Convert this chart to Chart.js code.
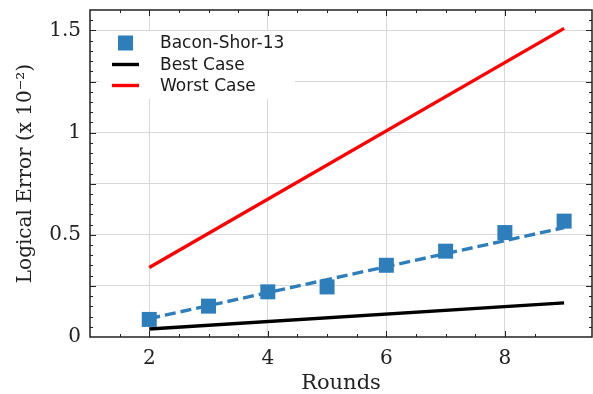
<!DOCTYPE html>
<html>
<head>
<meta charset="utf-8">
<script src="https://cdn.jsdelivr.net/npm/chart.js@4.4.1/dist/chart.umd.min.js"></script>
<style>
  body { margin: 0; background: #fff; }
  #wrap { width: 593px; height: 394px; }
</style>
</head>
<body>
<div id="wrap"><canvas id="myChart" width="593" height="394"></canvas></div>
<script>
// valores
const rounds = [2, 3, 4, 5, 6, 7, 8, 9];
const baconShor = [0.086, 0.151, 0.221, 0.245, 0.351, 0.42, 0.511, 0.567];
const fitRounds = [2, 9];
const fitValues = [0.09, 0.535];
const caseRounds = [2, 9];
const bestCase = [0.039, 0.167];
const worstCase = [0.34, 1.51];
const seriesNames = ['Bacon-Shor-13', 'Best Case', 'Worst Case'];

const blue = '#2f7ebc';

function pts(xs, ys) {
    return xs.map((x, i) => ({ x: x, y: ys[i] }));
}
function isMult(v, step) {
    return Math.abs(v / step - Math.round(v / step)) < 1e-6;
}

// moldura e marcas dos eixos para dentro
const frameTicks = {
    id: 'frameTicks',
    afterDraw(chart) {
        const c = chart.ctx, a = chart.chartArea;
        const xs = chart.scales.x, ys = chart.scales.y;
        c.save();
        c.strokeStyle = '#222';
        c.lineWidth = 1;
        c.beginPath();
        xs.ticks.forEach(t => {
            if (t.value > xs.max - 1e-6 || t.value < xs.min + 1e-6) return;
            const p = Math.round(xs.getPixelForValue(t.value)) + 0.5;
            const len = isMult(t.value, 2) ? 6 : 3;
            c.moveTo(p, a.bottom); c.lineTo(p, a.bottom - len);
            c.moveTo(p, a.top); c.lineTo(p, a.top + len);
        });
        ys.ticks.forEach(t => {
            if (t.value > ys.max - 1e-6 || t.value < ys.min + 1e-6) return;
            const p = Math.round(ys.getPixelForValue(t.value)) + 0.5;
            const len = isMult(t.value, 0.25) ? 6 : 3;
            c.moveTo(a.left, p); c.lineTo(a.left + len, p);
            c.moveTo(a.right, p); c.lineTo(a.right - len, p);
        });
        c.stroke();
        c.lineWidth = 1.5;
        c.strokeRect(a.left, a.top, a.right - a.left, a.bottom - a.top);
        c.restore();
    }
};

// legenda dentro da área do gráfico
const innerLegend = {
    id: 'innerLegend',
    afterDraw(chart) {
        const c = chart.ctx, a = chart.chartArea;
        const x0 = a.left + 9, y0 = a.top + 21;
        c.save();
        c.fillStyle = '#fff';
        c.fillRect(x0, y0, 196, 68);
        c.font = '17px "DejaVu Sans"';
        c.textBaseline = 'middle';
        c.textAlign = 'left';
        const rows = [y0 + 12, y0 + 33.5, y0 + 54.5];
        // quadrado
        c.fillStyle = blue;
        c.fillRect(x0 + 19, rows[0] - 7.5, 15, 15);
        // linhas
        c.lineWidth = 3.4;
        c.strokeStyle = '#000';
        c.beginPath(); c.moveTo(x0 + 13, rows[1]); c.lineTo(x0 + 40, rows[1]); c.stroke();
        c.strokeStyle = '#ff0000';
        c.beginPath(); c.moveTo(x0 + 13, rows[2]); c.lineTo(x0 + 40, rows[2]); c.stroke();
        c.fillStyle = '#1a1a1a';
        seriesNames.forEach((n, i) => c.fillText(n, x0 + 61, rows[i] + 1));
        c.restore();
    }
};

const serif = '"DejaVu Serif"';

var ctx = document.getElementById('myChart').getContext('2d');
var myChart = new Chart(ctx, {
    type: 'scatter',
    data: {
        datasets: [{
            label: seriesNames[0],
            data: pts(rounds, baconShor),
            pointStyle: 'rect',
            pointRadius: 10.6,
            pointHoverRadius: 10.6,
            backgroundColor: blue,
            borderWidth: 0,
            showLine: false,
            order: 0
        }, {
            label: 'fit',
            data: pts(fitRounds, fitValues),
            showLine: true,
            borderColor: blue,
            borderWidth: 3.4,
            borderDash: [11, 5],
            pointRadius: 0,
            order: 1
        }, {
            label: seriesNames[1],
            data: pts(caseRounds, bestCase),
            showLine: true,
            borderColor: '#000',
            borderWidth: 3.4,
            pointRadius: 0,
            order: 2
        }, {
            label: seriesNames[2],
            data: pts(caseRounds, worstCase),
            showLine: true,
            borderColor: '#ff0000',
            borderWidth: 3.4,
            pointRadius: 0,
            order: 3
        }]
    },
    options: {
        responsive: false,
        animation: false,
        events: [],
        layout: { autoPadding: false, padding: { top: 10, right: 1, left: 0, bottom: 0 } },
        plugins: {
            legend: { display: false },
            tooltip: { enabled: false }
        },
        scales: {
            x: {
                type: 'linear',
                min: 1,
                max: 9.47,
                afterFit(scale) {
                    scale.height = 57;
                    scale.paddingLeft = 0;
                    scale.paddingRight = 0;
                },
                border: { display: false },
                grid: {
                    drawTicks: false,
                    lineWidth: 1,
                    color: c => isMult(c.tick.value, 2) && c.tick.value > 1 ? '#d9d9d9' : 'rgba(0,0,0,0)'
                },
                ticks: {
                    stepSize: 0.5,
                    autoSkip: false,
                    maxRotation: 0,
                    padding: 10,
                    color: '#222',
                    font: { family: serif, size: 20 },
                    callback: v => (isMult(v, 2) && v > 1 && v < 9.2) ? String(Math.round(v)) : ''
                },
                title: {
                    display: true,
                    text: 'Rounds',
                    color: '#222',
                    font: { family: serif, size: 21 },
                    padding: { top: 0, bottom: -2 }
                }
            },
            y: {
                min: 0,
                max: 1.6,
                afterFit(scale) {
                    scale.width = 90;
                    scale.paddingTop = 0;
                    scale.paddingBottom = 0;
                },
                border: { display: false },
                grid: {
                    drawTicks: false,
                    lineWidth: 1,
                    color: c => isMult(c.tick.value, 0.25) && c.tick.value > 0 ? '#d9d9d9' : 'rgba(0,0,0,0)'
                },
                ticks: {
                    stepSize: 0.05,
                    autoSkip: false,
                    maxTicksLimit: 100,
                    padding: 9,
                    color: '#222',
                    font: { family: serif, size: 20 },
                    callback: v => isMult(v, 0.5) ? String(Math.round(v * 2) / 2) : ''
                },
                title: {
                    display: true,
                    text: 'Logical Error (x 10⁻²)',
                    color: '#222',
                    font: { family: serif, size: 20 },
                    padding: { top: 14, bottom: 0 }
                }
            }
        }
    },
    plugins: [frameTicks, innerLegend]
});
</script>
</body>
</html>
